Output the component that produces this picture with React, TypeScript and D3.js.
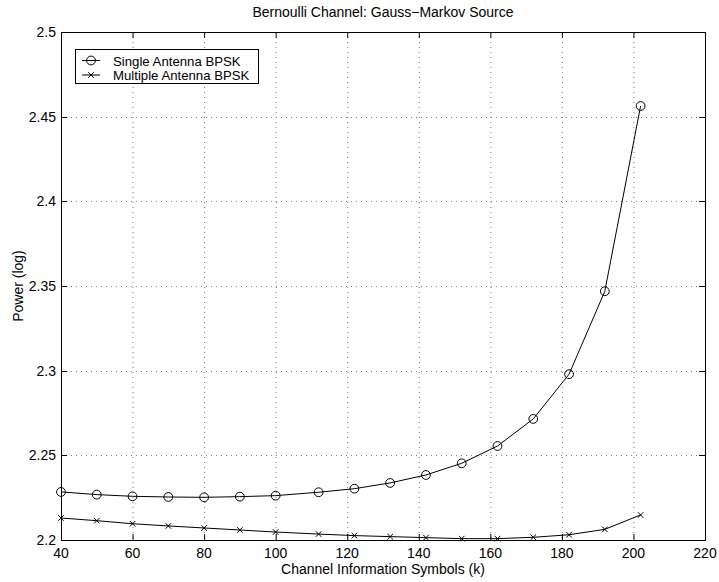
import React from "react";
import * as d3 from "d3";

// Channel information symbols (k)
const symbols = [40, 50, 60, 70, 80, 90, 100, 112, 122, 132, 142, 152, 162, 172, 182, 192, 202];

// Power (log) for each scheme
const singleAntenna = [
  2.2284, 2.2268, 2.2258, 2.2254, 2.2252, 2.2256, 2.2262, 2.2282, 2.2303,
  2.2337, 2.2384, 2.2453, 2.2555, 2.2715, 2.2979, 2.3469, 2.4563,
];
const multipleAntenna = [
  2.2130, 2.2114, 2.2096, 2.2083, 2.2071, 2.2059, 2.2047, 2.2035, 2.2026,
  2.2020, 2.2014, 2.2008, 2.2008, 2.2016, 2.2031, 2.2063, 2.2148,
];

const xTicks = [40, 60, 80, 100, 120, 140, 160, 180, 200, 220];
const yTicks = [2.2, 2.25, 2.3, 2.35, 2.4, 2.45, 2.5];
const yTickLabels = ["2.2", "2.25", "2.3", "2.35", "2.4", "2.45", "2.5"];

const seriesNames = ["Single Antenna BPSK", "Multiple Antenna BPSK"];
const title = "Bernoulli Channel: Gauss\u2212Markov Source";
const xLabel = "Channel Information Symbols (k)";
const yLabel = "Power (log)";

const W = 719;
const H = 582;
const plot = { left: 61, right: 705, top: 32, bottom: 540 };
const FONT = "'Liberation Sans', Arial, Helvetica, sans-serif";
const FS = 14;
const TICK = 6;

const x = d3.scaleLinear().domain([40, 220]).range([plot.left, plot.right]);
const y = d3.scaleLinear().domain([2.2, 2.5]).range([plot.bottom, plot.top]);

const line = d3
  .line<[number, number]>()
  .x((d) => x(d[0]))
  .y((d) => y(d[1]));

function Cross({ cx, cy, r = 2.8 }: { cx: number; cy: number; r?: number }) {
  return (
    <path
      d={`M${cx - r},${cy - r}L${cx + r},${cy + r}M${cx - r},${cy + r}L${cx + r},${cy - r}`}
      stroke="#000"
      strokeWidth={1}
      fill="none"
    />
  );
}

function Ring({ cx, cy }: { cx: number; cy: number }) {
  return <circle cx={cx} cy={cy} r={4.4} fill="none" stroke="#000" strokeWidth={1} />;
}

export default function App() {
  const singlePts = symbols.map((s, i) => [s, singleAntenna[i]] as [number, number]);
  const multiPts = symbols.map((s, i) => [s, multipleAntenna[i]] as [number, number]);

  const legend = { x: 75, y: 49, w: 183, h: 34 };
  const row1 = 60.5;
  const row2 = 75;

  return (
    <svg
      width={W}
      height={H}
      style={{ position: "absolute", left: 0, top: 0, background: "#fff" }}
      fontFamily={FONT}
      fontSize={FS}
    >
      <rect x={0} y={0} width={W} height={H} fill="#fff" />

      {/* dotted grid */}
      <g stroke="#000" strokeWidth={1} strokeDasharray="1 4" opacity={0.5}>
        {xTicks.slice(1, -1).map((t) => (
          <line key={`gx${t}`} x1={x(t) + 0.5} x2={x(t) + 0.5} y1={plot.top} y2={plot.bottom} />
        ))}
        {yTicks.slice(1, -1).map((t) => (
          <line key={`gy${t}`} x1={plot.left} x2={plot.right} y1={Math.round(y(t)) + 0.5} y2={Math.round(y(t)) + 0.5} />
        ))}
      </g>

      {/* axes box */}
      <rect
        x={plot.left + 0.5}
        y={plot.top + 0.5}
        width={plot.right - plot.left}
        height={plot.bottom - plot.top}
        fill="none"
        stroke="#000"
        strokeWidth={1}
      />

      {/* inward ticks on all sides */}
      <g stroke="#000" strokeWidth={1}>
        {xTicks.map((t) => (
          <g key={`tx${t}`}>
            <line x1={x(t) + 0.5} x2={x(t) + 0.5} y1={plot.bottom} y2={plot.bottom - TICK} />
            <line x1={x(t) + 0.5} x2={x(t) + 0.5} y1={plot.top} y2={plot.top + TICK} />
          </g>
        ))}
        {yTicks.map((t) => (
          <g key={`ty${t}`}>
            <line x1={plot.left} x2={plot.left + TICK} y1={Math.round(y(t)) + 0.5} y2={Math.round(y(t)) + 0.5} />
            <line x1={plot.right} x2={plot.right - TICK} y1={Math.round(y(t)) + 0.5} y2={Math.round(y(t)) + 0.5} />
          </g>
        ))}
      </g>

      {/* tick labels */}
      {xTicks.map((t) => (
        <text key={`lx${t}`} x={x(t)} y={plot.bottom + 18} textAnchor="middle" fill="#000">
          {t}
        </text>
      ))}
      {yTicks.map((t, i) => (
        <text key={`ly${t}`} x={plot.left - 5} y={y(t) + 5} textAnchor="end" fill="#000">
          {yTickLabels[i]}
        </text>
      ))}

      {/* data */}
      <path d={line(singlePts) || ""} fill="none" stroke="#000" strokeWidth={1} />
      <path d={line(multiPts) || ""} fill="none" stroke="#000" strokeWidth={1} />
      {singlePts.map((p, i) => (
        <Ring key={`c${i}`} cx={x(p[0])} cy={y(p[1])} />
      ))}
      {multiPts.map((p, i) => (
        <Cross key={`m${i}`} cx={x(p[0])} cy={y(p[1])} />
      ))}

      {/* titles */}
      <text x={(plot.left + plot.right) / 2} y={17} textAnchor="middle" fill="#000">
        {title}
      </text>
      <text x={(plot.left + plot.right) / 2} y={574} textAnchor="middle" fill="#000">
        {xLabel}
      </text>
      <text
        transform={`translate(23, ${(plot.top + plot.bottom) / 2}) rotate(-90)`}
        textAnchor="middle"
        fill="#000"
      >
        {yLabel}
      </text>

      {/* legend */}
      <rect
        x={legend.x + 0.5}
        y={legend.y + 0.5}
        width={legend.w}
        height={legend.h}
        fill="#fff"
        stroke="#000"
        strokeWidth={1}
      />
      <line x1={82} x2={100} y1={row1} y2={row1} stroke="#000" />
      <Ring cx={91} cy={row1} />
      <text x={113} y={row1 + 5} fill="#000" fontSize={13.2}>{seriesNames[0]}</text>
      <line x1={82} x2={100} y1={row2} y2={row2} stroke="#000" />
      <Cross cx={91} cy={row2} />
      <text x={113} y={row2 + 5} fill="#000" fontSize={13.2}>{seriesNames[1]}</text>
    </svg>
  );
}
